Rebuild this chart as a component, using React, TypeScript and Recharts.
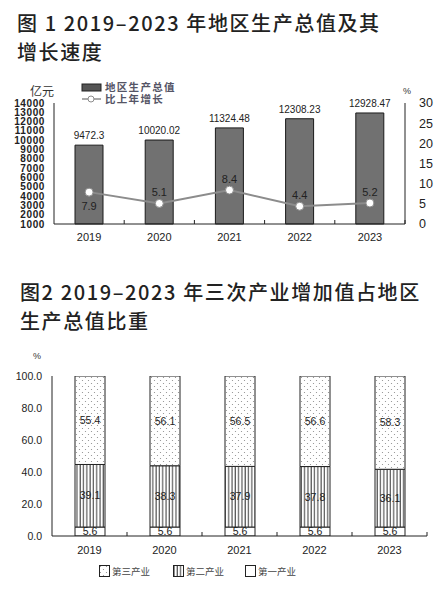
import React from "react";
import {
  ComposedChart,
  BarChart,
  Bar,
  Line,
  XAxis,
  YAxis,
  LabelList,
} from "recharts";

// 图1：地区生产总值（亿元）及增长速度（%）
const years = ["2019", "2020", "2021", "2022", "2023"];
const gdp = [9472.3, 10020.02, 11324.48, 12308.23, 12928.47];
const growth = [7.9, 5.1, 8.4, 4.4, 5.2];
const gdpTicks = [1000, 2000, 3000, 4000, 5000, 6000, 7000, 8000, 9000, 10000, 11000, 12000, 13000, 14000];
const growthTicks = [0, 5, 10, 15, 20, 25, 30];

// 图2：三次产业占比（%）
const primary = [5.6, 5.6, 5.6, 5.6, 5.6];
const secondary = [39.1, 38.3, 37.9, 37.8, 36.1];
const tertiary = [55.4, 56.1, 56.5, 56.6, 58.3];
const shareTicks = [0, 20, 40, 60, 80, 100];

const gdpData = years.map((year, i) => ({ year, gdp: gdp[i], growth: growth[i] }));
const shareData = years.map((year, i) => ({
  year,
  primary: primary[i],
  secondary: secondary[i],
  tertiary: tertiary[i],
}));

const NUM_FONT = "'Liberation Sans', Arial, sans-serif";
const CJK_FONT = "'Noto Sans CJK SC', 'Noto Sans', sans-serif";
const INK = "#222";

// year label plus the little upward tick on the category boundary
function makeYearTick(band: number, margin: number) {
  return function YearTick(props: any) {
    const { x, y, payload } = props;
    const axisY = y - margin;
    return (
      <g>
        <text x={x} y={y} dy="0.71em" textAnchor="middle" fontSize={11} fontFamily={NUM_FONT} fill={INK}>
          {payload.value}
        </text>
        <line x1={x + band / 2} x2={x + band / 2} y1={axisY} y2={axisY - 4} stroke={INK} strokeWidth={1} />
      </g>
    );
  };
}

function GrowthLabel(props: any) {
  const { x, y, value } = props;
  let idx = props.index;
  if (idx === undefined) idx = growth.indexOf(value);
  const dy = idx === 0 ? 14 : -11;
  return (
    <text x={x} y={y + dy} textAnchor="middle" dominantBaseline="central" fontSize={11} fontFamily={NUM_FONT} fill={INK}>
      {value}
    </text>
  );
}

const titleStyle: React.CSSProperties = {
  position: "absolute",
  fontFamily: CJK_FONT,
  fontSize: 20,
  fontWeight: 500,
  lineHeight: "29px",
  letterSpacing: 1.6,
  color: "#222",
  margin: 0,
  whiteSpace: "nowrap",
};

const legendText: React.CSSProperties = {
  position: "absolute",
  fontFamily: CJK_FONT,
  fontSize: 10.5,
  lineHeight: "10.5px",
  letterSpacing: 1.3,
  color: "#556",
  fontWeight: 700,
};

export default function App() {
  return (
    <div style={{ position: "absolute", left: 0, top: 0, width: 441, height: 597, background: "#fff", overflow: "hidden" }}>
      <div style={{ ...titleStyle, left: 17, top: 8 }}>
        图 1 2019–2023 年地区生产总值及其
        <br />
        增长速度
      </div>

      {/* chart 1 legend + units */}
      <div style={{ position: "absolute", left: 30, top: 82, fontFamily: CJK_FONT, fontSize: 12, color: "#333" }}>亿元</div>
      <div style={{ position: "absolute", left: 403, top: 86, fontFamily: NUM_FONT, fontSize: 9, color: "#333" }}>%</div>
      <svg style={{ position: "absolute", left: 80, top: 82 }} width={24} height={24}>
        <rect x={2} y={2} width={19} height={7} fill="#555" stroke={INK} />
        <line x1={2} x2={21} y1={17} y2={17} stroke="#8c8c8c" strokeWidth={1.5} />
        <circle cx={11} cy={17} r={3} fill="#fff" stroke="#8c8c8c" />
      </svg>
      <div style={{ ...legendText, left: 105, top: 82 }}>地区生产总值</div>
      <div style={{ ...legendText, left: 105, top: 94 }}>比上年增长</div>

      <div style={{ position: "absolute", left: 0, top: 60 }}>
        <ComposedChart width={441} height={200} data={gdpData} margin={{ top: 43, right: 0, left: 0, bottom: 16 }}>
          <XAxis
            dataKey="year"
            height={20}
            axisLine={{ stroke: INK }}
            tickLine={false}
            tickSize={0}
            tickMargin={9}
            interval={0}
            tick={makeYearTick(70.2, 9)}
          />
          <YAxis
            yAxisId="v"
            width={54}
            domain={[1000, 14000]}
            ticks={gdpTicks}
            interval={0}
            axisLine={{ stroke: INK }}
            tickLine={false}
            tickMargin={3}
            tick={{ fontSize: 10, fontFamily: NUM_FONT, fill: INK, fontWeight: 700, letterSpacing: 0.6 }}
          />
          <YAxis
            yAxisId="g"
            orientation="right"
            width={36}
            domain={[0, 30]}
            ticks={growthTicks}
            interval={0}
            axisLine={{ stroke: INK }}
            tickLine={false}
            tickMargin={8}
            tick={{ fontSize: 12.5, fontFamily: NUM_FONT, fill: INK }}
          />
          <Bar yAxisId="v" dataKey="gdp" fill="#717171" stroke="#1a1a1a" strokeWidth={1} barSize={28} isAnimationActive={false}>
            <LabelList dataKey="gdp" position="top" offset={6} fontSize={10} fontFamily={NUM_FONT} fill={INK} />
          </Bar>
          <Line
            yAxisId="g"
            dataKey="growth"
            type="linear"
            stroke="#8c8c8c"
            strokeWidth={2}
            dot={{ r: 4, fill: "#fff", stroke: "#8c8c8c", strokeWidth: 1 }}
            label={<GrowthLabel />}
            isAnimationActive={false}
          />
        </ComposedChart>
      </div>

      <div style={{ ...titleStyle, left: 20, top: 277 }}>
        图2 2019–2023 年三次产业增加值占地区
        <br />
        生产总值比重
      </div>

      <div style={{ position: "absolute", left: 33, top: 351, fontFamily: NUM_FONT, fontSize: 9, color: "#333" }}>%</div>

      <div style={{ position: "absolute", left: 0, top: 340 }}>
        <BarChart width={441} height={220} data={shareData} margin={{ top: 36, right: 14, left: 0, bottom: 0 }}>
          <defs>
            <pattern id="stripes" width={3.3} height={4} patternUnits="userSpaceOnUse">
              <rect width={3.3} height={4} fill="#fff" />
              <line x1={1} x2={1} y1={0} y2={4} stroke="#333" strokeWidth={1} />
            </pattern>
            <pattern id="dots" width={6} height={6} patternUnits="userSpaceOnUse">
              <rect width={6} height={6} fill="#fff" />
              <circle cx={1.5} cy={1.5} r={0.6} fill="#8a8a8a" />
              <circle cx={4.5} cy={4.5} r={0.6} fill="#8a8a8a" />
            </pattern>
          </defs>
          <XAxis
            dataKey="year"
            height={24}
            axisLine={{ stroke: INK }}
            tickLine={false}
            tickSize={0}
            tickMargin={10}
            interval={0}
            tick={makeYearTick(75, 10)}
          />
          <YAxis
            width={52}
            domain={[0, 100]}
            allowDataOverflow
            ticks={shareTicks}
            interval={0}
            axisLine={{ stroke: INK }}
            tickLine={false}
            tickMargin={4}
            tickFormatter={(v: number) => v.toFixed(1)}
            tick={{ fontSize: 10.5, fontFamily: NUM_FONT, fill: INK }}
          />
          <Bar dataKey="primary" stackId="s" fill="#fff" stroke={INK} strokeWidth={1} barSize={30} isAnimationActive={false}>
            <LabelList dataKey="primary" position="center" fontSize={10.5} fontFamily={NUM_FONT} fill={INK} />
          </Bar>
          <Bar dataKey="secondary" stackId="s" fill="url(#stripes)" stroke={INK} strokeWidth={1} barSize={30} isAnimationActive={false}>
            <LabelList dataKey="secondary" position="center" fontSize={10.5} fontFamily={NUM_FONT} fill={INK} />
          </Bar>
          <Bar dataKey="tertiary" stackId="s" fill="url(#dots)" stroke={INK} strokeWidth={1} barSize={30} isAnimationActive={false}>
            <LabelList dataKey="tertiary" position="center" fontSize={10.5} fontFamily={NUM_FONT} fill={INK} />
          </Bar>
        </BarChart>
      </div>

      {/* chart 2 legend */}
      <svg style={{ position: "absolute", left: 99, top: 565 }} width={12} height={13}>
        <rect x={0.5} y={0.5} width={10} height={11} fill="url(#dots)" stroke={INK} />
      </svg>
      <div style={{ position: "absolute", left: 112, top: 564, fontFamily: CJK_FONT, fontSize: 9.5, color: "#444" }}>第三产业</div>
      <svg style={{ position: "absolute", left: 173, top: 565 }} width={12} height={13}>
        <rect x={0.5} y={0.5} width={10} height={11} fill="url(#stripes)" stroke={INK} />
      </svg>
      <div style={{ position: "absolute", left: 186, top: 564, fontFamily: CJK_FONT, fontSize: 9.5, color: "#444" }}>第二产业</div>
      <svg style={{ position: "absolute", left: 245, top: 565 }} width={12} height={13}>
        <rect x={0.5} y={0.5} width={10} height={11} fill="#fff" stroke={INK} />
      </svg>
      <div style={{ position: "absolute", left: 258, top: 564, fontFamily: CJK_FONT, fontSize: 9.5, color: "#444" }}>第一产业</div>
    </div>
  );
}
